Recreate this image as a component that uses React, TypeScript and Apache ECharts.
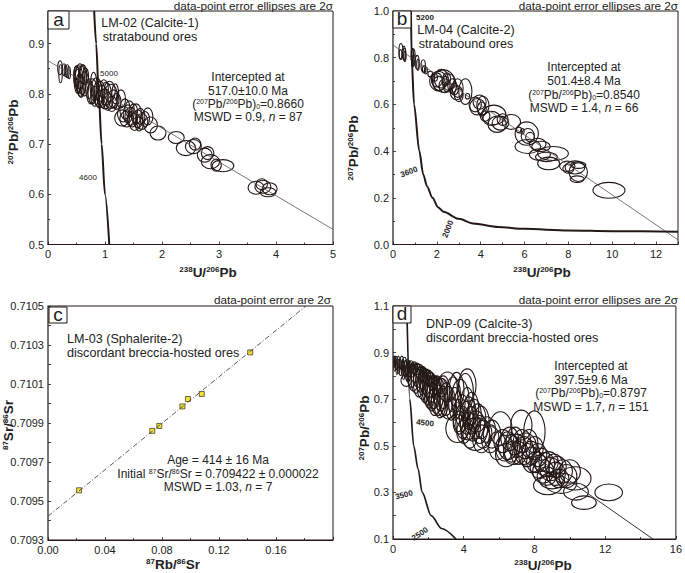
import React, { useEffect, useRef } from "react";
import * as echarts from "echarts";

// every ellipse is [x, y, rx, ry] in data units
const ellipsesA = [
  [.21,.852,.04,.014],[.22,.84,.03,.018],[.28,.848,.03,.012],[.31,.846,.025,.012],[.34,.845,.03,.013],[.37,.842,.025,.012],
  [.5,.835,.05,.02],[.52,.825,.06,.024],[.54,.83,.07,.026],[.55,.82,.06,.02],[.56,.835,.08,.025],[.58,.815,.07,.022],
  [.6,.828,.07,.03],[.62,.838,.06,.02],[.64,.82,.08,.024],[.5,.842,.04,.014],[.57,.81,.05,.015],[.66,.835,.05,.016],
  [.72,.81,.06,.02],[.75,.8,.07,.02],[.78,.805,.08,.025],[.8,.815,.06,.028],[.82,.795,.07,.02],[.85,.81,.09,.022],
  [.88,.8,.08,.025],[.9,.79,.07,.018],[.92,.805,.08,.02],[.95,.795,.09,.022],[.98,.81,.08,.018],[1.0,.79,.1,.02],
  [1.02,.8,.09,.023],[1.05,.785,.08,.018],[1.08,.805,.1,.02],[1.1,.795,.12,.024],[1.12,.78,.09,.015],[1.15,.79,.1,.018],
  [1.18,.8,.06,.02],[1.2,.785,.08,.016],[1.28,.79,.08,.018],[1.32,.76,.1,.016],[1.35,.77,.09,.02],[1.3,.752,.13,.016],
  [1.38,.75,.12,.016],[1.4,.76,.08,.018],[1.43,.77,.08,.016],[1.45,.755,.1,.018],[1.48,.75,.09,.016],[1.5,.765,.07,.015],
  [1.52,.745,.1,.018],[1.55,.76,.09,.02],[1.58,.75,.08,.018],[1.6,.74,.07,.014],[1.62,.755,.08,.016],[1.65,.745,.1,.016],
  [1.7,.75,.08,.015],[1.75,.755,.09,.017],[1.8,.738,.12,.016],[1.93,.722,.14,.014],[2.25,.713,.14,.012],[2.42,.692,.17,.015],
  [2.55,.695,.14,.014],[2.58,.7,.1,.012],[2.75,.678,.13,.014],[2.8,.682,.11,.013],[2.85,.665,.16,.014],[3.07,.657,.19,.012],
  [2.95,.658,.09,.012],[3.65,.613,.14,.013],[3.77,.615,.14,.013],[3.89,.611,.13,.012],[3.86,.604,.14,.009],[3.75,.62,.1,.011],
];

const ellipsesB = [
  [.36,.827,.09,.034],[.34,.815,.06,.02],[.5,.82,.06,.03],[.52,.815,.07,.026],[.54,.805,.05,.022],
  [.88,.81,.06,.03],[.93,.806,.08,.032],[.95,.79,.06,.024],[.9,.78,.05,.02],[1.1,.78,.09,.03],[1.14,.77,.06,.024],
  [1.38,.765,.1,.026],[1.42,.75,.08,.015],[1.5,.745,.07,.015],[1.7,.73,.11,.012],[1.9,.715,.13,.016],
  [2.0,.705,.25,.03],[2.07,.7,.4,.042],[2.1,.69,.28,.03],[2.2,.71,.32,.04],[2.3,.7,.5,.048],[2.35,.68,.25,.03],
  [2.4,.7,.15,.02],[2.45,.71,.18,.025],[2.5,.675,.2,.022],[2.55,.695,.3,.035],[2.7,.68,.2,.03],[2.8,.665,.18,.025],
  [2.9,.65,.28,.03],[2.95,.67,.25,.04],[3.0,.64,.2,.028],[3.3,.655,.3,.055],[3.4,.635,.1,.012],[3.75,.6,.28,.032],
  [3.85,.59,.35,.035],[3.95,.61,.3,.03],[4.05,.58,.2,.03],[4.1,.595,.28,.04],[4.2,.55,.22,.022],[4.6,.555,.55,.042],
  [4.5,.54,.4,.03],[4.75,.515,.42,.035],[4.9,.52,.38,.03],[5.0,.535,.25,.025],[5.4,.525,.42,.032],[5.75,.49,.12,.012],
  [5.9,.485,.08,.012],[6.1,.475,.53,.05],[6.15,.465,.3,.032],[6.25,.46,.2,.02],[6.15,.42,.58,.03],[6.6,.43,.38,.025],
  [6.75,.42,.42,.022],[6.7,.385,.48,.025],[7.3,.39,.7,.03],[7.0,.375,.5,.02],[7.1,.347,.5,.027],[7.95,.335,.35,.022],
  [8.0,.325,.25,.02],[8.3,.33,.45,.028],[8.45,.34,.35,.014],[8.45,.31,.42,.04],[8.4,.28,.32,.014],[9.85,.232,.73,.034],
];

const ellipsesD = [
  [.05,.86,.05,.025],[.1,.85,.06,.03],[.12,.865,.05,.02],[.2,.855,.06,.028],[.22,.835,.05,.03],[.3,.86,.07,.025],
  [.32,.84,.06,.03],[.4,.85,.07,.02],[.42,.83,.08,.028],[.5,.855,.1,.03],[.55,.835,.09,.035],[.6,.815,.08,.03],
  [.65,.85,.12,.03],[.7,.83,.12,.035],[.75,.78,.3,.025],[.8,.845,.14,.025],[.85,.815,.15,.04],[.9,.83,.18,.035],
  [1.0,.845,.2,.02],[1.05,.8,.25,.05],[1.1,.825,.18,.03],[1.15,.79,.3,.055],[1.2,.835,.2,.025],[1.25,.81,.25,.04],
  [1.3,.78,.28,.055],[1.35,.83,.22,.025],[1.4,.8,.25,.05],[1.45,.77,.3,.06],[1.5,.82,.25,.03],[1.55,.785,.25,.055],
  [1.6,.81,.28,.03],[1.65,.76,.3,.06],[1.7,.79,.25,.05],[1.75,.8,.22,.03],[1.8,.75,.28,.065],[1.85,.775,.33,.055],
  [1.9,.795,.22,.03],[1.95,.74,.3,.065],[2.0,.765,.33,.06],[2.05,.73,.3,.07],[2.1,.785,.25,.03],[2.15,.75,.33,.065],
  [2.2,.71,.33,.06],[2.25,.77,.25,.035],[2.3,.73,.38,.07],[2.35,.69,.33,.06],[2.4,.75,.3,.05],[2.45,.71,.38,.07],
  [2.5,.76,.28,.04],[2.55,.695,.38,.065],[2.6,.73,.33,.06],[2.65,.68,.33,.06],[2.7,.72,.4,.07],[2.75,.75,.35,.04],
  [2.8,.69,.33,.065],[2.85,.73,.38,.07],[3.0,.7,.4,.07],[3.08,.753,.56,.064],[3.1,.685,.45,.07],[3.3,.66,.3,.05],
  [3.4,.72,.42,.075],[3.5,.68,.35,.07],[3.64,.574,.65,.06],[3.6,.74,.42,.075],[3.7,.63,.3,.07],[3.75,.6,.35,.05],
  [3.8,.7,.5,.085],[3.9,.65,.4,.07],[3.95,.6,.4,.07],[4.0,.56,.4,.05],[4.1,.73,.45,.08],[4.15,.62,.4,.07],
  [4.2,.76,.5,.07],[4.2,.67,.4,.08],[4.25,.585,.45,.06],[4.3,.64,.4,.07],[4.35,.54,.4,.05],[4.4,.61,.4,.06],[4.45,.66,.4,.07],
  [4.5,.58,.45,.06],[4.6,.63,.4,.07],[4.66,.55,.8,.07],[4.7,.59,.5,.06],[4.8,.62,.45,.06],[4.9,.57,.45,.06],
  [5.0,.6,.45,.07],[5.0,.53,.5,.06],[5.1,.55,.5,.06],[5.3,.57,.5,.055],[5.5,.53,.5,.06],[5.6,.55,.5,.06],[5.9,.5,.5,.06],
  [6.08,.574,.65,.072],[6.2,.52,.5,.05],[6.3,.49,.5,.055],[6.4,.46,.6,.05],[6.5,.5,.55,.06],[6.6,.53,.5,.05],
  [6.7,.49,.45,.06],[6.8,.47,.55,.05],[6.9,.52,.5,.06],[7.0,.5,.5,.05],[7.1,.47,.45,.05],[7.26,.589,.6,.064],
  [7.3,.52,.5,.05],[7.4,.48,.55,.06],[7.5,.5,.6,.055],[7.6,.46,.5,.05],[7.7,.51,.5,.06],[7.8,.47,.5,.05],
  [7.85,.44,.55,.055],[8.0,.56,.6,.09],[8.0,.49,.5,.05],[8.1,.43,.55,.045],[8.2,.46,.5,.05],[8.3,.41,.55,.05],
  [8.4,.44,.5,.05],[8.5,.39,.6,.05],[8.6,.42,.55,.05],[8.7,.37,.55,.04],[8.8,.43,.55,.045],[8.75,.33,.8,.04],
  [8.9,.4,.6,.05],[9.0,.35,.7,.035],[9.1,.42,.5,.045],[9.2,.38,.55,.05],[9.3,.41,.5,.045],[9.4,.36,.55,.04],
  [9.5,.339,.9,.043],[9.6,.39,.55,.05],[9.8,.37,.6,.05],[10.0,.39,.6,.05],[10.3,.36,.9,.05],[10.35,.303,.7,.036],
  [10.8,.256,.7,.029],[12.2,.3,.78,.036],
];

const isochronPoints = [
  [.0218,.709555],[.0732,.70986],[.0781,.709885],[.0943,.709985],[.0982,.710023],[.1079,.710049],[.1419,.710262],
];

const discordiaA = [[0,.866],[5,.53]];
const discordiaB = [[0,.854],[13,.02]];
const isochronLine = [[0,.709422],[.181,.7105]];
const discordiaD = [[0,.88],[14.7,.1]];

const concordiaA = [[.81,.965],[.845,.9],[.89,.8],[.94,.7],[1.0,.6],[1.075,.5]];
const concordiaB = [[.82,1],[.85,.8],[.96,.6],[1.2,.4],[1.38,.3],[1.55,.25],[1.8,.2],[2.05,.16],[2.3,.14],[3,.11],[3.65,.09],[4.8,.075],[6,.067],[8,.06],[10,.057],[13,.055]];
const concordiaD = [[.78,1.1],[.95,.7],[1.17,.5],[1.42,.4],[1.65,.3],[2.16,.2],[2.75,.145],[3.56,.1]];

const FONT = "'Liberation Sans', Arial, sans-serif";
const INK = "#231815";

const grids = [
  { left: 48, top: 11, width: 285, height: 233.5 },
  { left: 393, top: 11, width: 285, height: 233.5 },
  { left: 48, top: 306, width: 285, height: 234 },
  { left: 393, top: 306, width: 286, height: 233 },
];

const axisBase = (gridIndex: number) => ({
  gridIndex,
  splitLine: { show: false },
  axisLine: { show: true, onZero: false, lineStyle: { color: INK, width: 1 } },
  axisTick: { show: true, inside: true, length: 3, lineStyle: { color: INK, width: 0.8 } },
  minorTick: { show: true, splitNumber: 2, length: 2, lineStyle: { color: INK, width: 0.8 } },
  axisLabel: { color: "#222", fontFamily: FONT, fontSize: 11, margin: 4, showMaxLabel: true, hideOverlap: false },
});

const leftLine = { show: true, onZero: false, lineStyle: { color: "#6e6e6e", width: 1.6 } };

const xAxes = [
  { ...axisBase(0), type: "value", min: 0, max: 5, interval: 1 },
  { ...axisBase(1), type: "value", min: 0, max: 13, interval: 2,
    axisLabel: { ...axisBase(1).axisLabel, showMaxLabel: false } },
  { ...axisBase(2), type: "value", min: 0, max: 0.2, interval: 0.04,
    axisLabel: { ...axisBase(2).axisLabel, showMaxLabel: false, formatter: (v: number) => v.toFixed(2) } },
  { ...axisBase(3), type: "value", min: 0, max: 16, interval: 4 },
];

const yAxes = [
  { ...axisBase(0), type: "value", min: 0.5, max: 0.965, interval: 0.1, axisLine: leftLine,
    axisLabel: { ...axisBase(0).axisLabel, showMaxLabel: false, formatter: (v: number) => v.toFixed(1) } },
  { ...axisBase(1), type: "value", min: 0, max: 1, interval: 0.2, axisLine: leftLine,
    axisLabel: { ...axisBase(1).axisLabel, formatter: (v: number) => v.toFixed(1) } },
  { ...axisBase(2), type: "value", min: 0.7093, max: 0.7105, interval: 0.0001, axisLine: leftLine,
    minorTick: { show: false },
    axisLabel: { ...axisBase(2).axisLabel,
      formatter: (v: number) => (Math.round(v * 10000) % 2 === 1 ? v.toFixed(4) : "") } },
  { ...axisBase(3), type: "value", min: 0.1, max: 1.1, interval: 0.1, axisLine: leftLine,
    minorTick: { show: false },
    axisLabel: { ...axisBase(3).axisLabel,
      formatter: (v: number) => (Math.round(v * 10) % 2 === 1 ? v.toFixed(1) : "") } },
];

const ellipseSeries = (index: number, data: number[][]) => ({
  type: "custom",
  xAxisIndex: index,
  yAxisIndex: index,
  encode: { x: 0, y: 1 },
  silent: true,
  clip: true,
  data,
  renderItem: (_params: any, api: any) => {
    const c = api.coord([api.value(0), api.value(1)]);
    const s = api.size([api.value(2), api.value(3)]);
    return {
      type: "ellipse",
      shape: { cx: c[0], cy: c[1], rx: s[0], ry: s[1] },
      style: { fill: "none", stroke: INK, lineWidth: 1.1 },
    };
  },
});

const lineSeries = (index: number, data: number[][], width: number, color: string, extra = {}) => ({
  type: "line",
  xAxisIndex: index,
  yAxisIndex: index,
  data,
  symbol: "none",
  silent: true,
  clip: true,
  lineStyle: { color, width },
  ...extra,
});

const richStyles = {
  n: { fontFamily: FONT, fontSize: 12, fill: "#222" },
  i: { fontFamily: FONT, fontSize: 12, fontStyle: "italic", fill: "#222" },
  s: { fontFamily: FONT, fontSize: 7, fill: "#222", verticalAlign: "top" },
  u: { fontFamily: FONT, fontSize: 7, fill: "#222", verticalAlign: "bottom" },
  b: { fontFamily: FONT, fontSize: 13.5, fontWeight: "bold", fill: "#222" },
  bs: { fontFamily: FONT, fontSize: 8, fontWeight: "bold", fill: "#222", verticalAlign: "top" },
};

const text = (x: number, y: number, value: string, opts: any = {}) => ({
  type: "text",
  x,
  y,
  z: 120,
  rotation: opts.rotation || 0,
  silent: true,
  style: {
    text: value,
    fontFamily: FONT,
    fontSize: opts.size || 11.7,
    fontWeight: opts.weight || "normal",
    fill: "#222",
    textAlign: opts.align || "center",
    textVerticalAlign: "middle",
    rich: richStyles,
  },
});

const panelBox = (x: number, y: number, w: number, h: number, letter: string) => [
  {
    type: "rect",
    z: 110,
    silent: true,
    shape: { x, y, width: w, height: h },
    style: { fill: "#fff", stroke: INK, lineWidth: 1 },
  },
  text(x + w / 2, y + h / 2 - 1, letter, { size: 19 }),
];

const interceptLines = (cx: number, ys: number[], age: string, ratio: string, mswd: string, n: string) => [
  text(cx, ys[0], "{n|Intercepted at}"),
  text(cx, ys[1], `{n|${age}}`),
  text(cx, ys[2], `{n|(}{s|207}{n|Pb/}{s|206}{n|Pb)}{u|0}{n|=${ratio}}`),
  text(cx, ys[3], `{n|MSWD = ${mswd}, }{i|n}{n| = ${n}}`),
];

const u238 = "{bs|238}{b|U/}{bs|206}{b|Pb}";
const pb207 = "{bs|207}{b|Pb/}{bs|206}{b|Pb}";
const UP = Math.PI / 2;

const graphics = [
  // panel a
  text(333, 5, "data-point error ellipses are 2σ", { align: "right" }),
  ...panelBox(48, 11, 21, 18, "a"),
  text(150, 23, "LM-02 (Calcite-1)", { size: 12.6 }),
  text(150, 37, "stratabound ores", { size: 12.6 }),
  ...interceptLines(248, [77, 90.5, 104, 117], "517.0±10.0 Ma", "0.8660", "0.9", "87"),
  text(109, 73, "5000", { size: 8 }),
  text(88, 177, "4600", { size: 8 }),
  text(208, 272, u238),
  text(13, 132, pb207, { rotation: UP }),
  // panel b
  text(678, 5, "data-point error ellipses are 2σ", { align: "right" }),
  ...panelBox(393, 11, 18, 17, "b"),
  text(425, 17, "5200", { size: 8, weight: "bold" }),
  text(466, 30, "LM-04 (Calcite-2)", { size: 12.6 }),
  text(466, 44, "stratabound ores", { size: 12.6 }),
  ...interceptLines(584, [67, 80.5, 94.5, 108], "501.4±8.4 Ma", "0.8540", "1.4", "66"),
  text(409, 172, "3600", { size: 8, weight: "bold", rotation: 0.35 }),
  text(448, 229, "2000", { size: 8, weight: "bold", rotation: 1.2 }),
  text(542, 272, u238),
  text(353, 148, pb207, { rotation: UP }),
  // panel c
  text(331, 299, "data-point error are 2σ", { align: "right" }),
  ...panelBox(49, 307, 18, 16, "c"),
  text(67, 339, "LM-03 (Sphalerite-2)", { size: 12.6, align: "left" }),
  text(67, 353, "discordant breccia-hosted ores", { size: 12.6, align: "left" }),
  text(218, 460, "{n|Age = 414 ± 16 Ma}"),
  text(218, 473.5, "{n|Initial }{s|87}{n|Sr/}{s|86}{n|Sr = 0.709422 ± 0.000022}"),
  text(218, 487, "{n|MSWD = 1.03, }{i|n}{n| = 7}"),
  text(173, 564, "{bs|87}{b|Rb/}{bs|86}{b|Sr}"),
  text(8, 425, "{bs|87}{b|Sr/}{bs|86}{b|Sr}", { rotation: UP }),
  // panel d
  text(678, 299, "data-point error ellipses are 2σ", { align: "right" }),
  ...panelBox(393, 306, 18, 17, "d"),
  text(426, 324, "DNP-09 (Calcite-3)", { size: 12.6, align: "left" }),
  text(426, 338, "discordant breccia-hosted ores", { size: 12.6, align: "left" }),
  ...interceptLines(591, [366, 379.5, 393, 406.5], "397.5±9.6 Ma", "0.8797", "1.7", "151"),
  text(425, 423, "4500", { size: 8, weight: "bold", rotation: -0.1 }),
  text(404, 495, "3500", { size: 8, weight: "bold", rotation: 0.25 }),
  text(420, 534, "2500", { size: 8, weight: "bold", rotation: 0.6 }),
  text(543, 565, u238),
  text(364, 428, pb207, { rotation: UP }),
];

export default function App() {
  const chartRef = useRef<HTMLDivElement>(null);

  useEffect(() => {
    if (!chartRef.current) return;
    const chart = echarts.init(chartRef.current, undefined, { renderer: "svg" });
    chart.setOption({
      animation: false,
      backgroundColor: "#fff",
      grid: grids.map((g) => ({ ...g, show: true, borderColor: INK, borderWidth: 1, containLabel: false })),
      xAxis: xAxes,
      yAxis: yAxes,
      series: [
        lineSeries(0, discordiaA, 0.8, "#555"),
        ellipseSeries(0, ellipsesA),
        lineSeries(0, concordiaA, 2, INK, { smooth: 0.3, smoothMonotone: "x" }),
        lineSeries(1, discordiaB, 0.8, "#555"),
        ellipseSeries(1, ellipsesB),
        lineSeries(1, concordiaB, 2, INK, { smooth: 0.3, smoothMonotone: "x" }),
        lineSeries(2, isochronLine, 0.9, "#444", { lineStyle: { color: "#444", width: 0.9, type: [5, 2, 1, 2] } }),
        {
          type: "scatter",
          xAxisIndex: 2,
          yAxisIndex: 2,
          data: isochronPoints,
          symbol: "rect",
          symbolSize: 5,
          silent: true,
          itemStyle: { color: "#f0dc00", borderColor: INK, borderWidth: 0.8 },
        },
        lineSeries(3, discordiaD, 1, "#333"),
        ellipseSeries(3, ellipsesD),
        lineSeries(3, concordiaD, 1.7, INK, { smooth: 0.3, smoothMonotone: "x" }),
      ],
      graphic: graphics,
    });
    return () => chart.dispose();
  }, []);

  return (
    <div
      ref={chartRef}
      style={{ position: "fixed", left: 0, top: 0, width: 685, height: 573, background: "#fff" }}
    />
  );
}
